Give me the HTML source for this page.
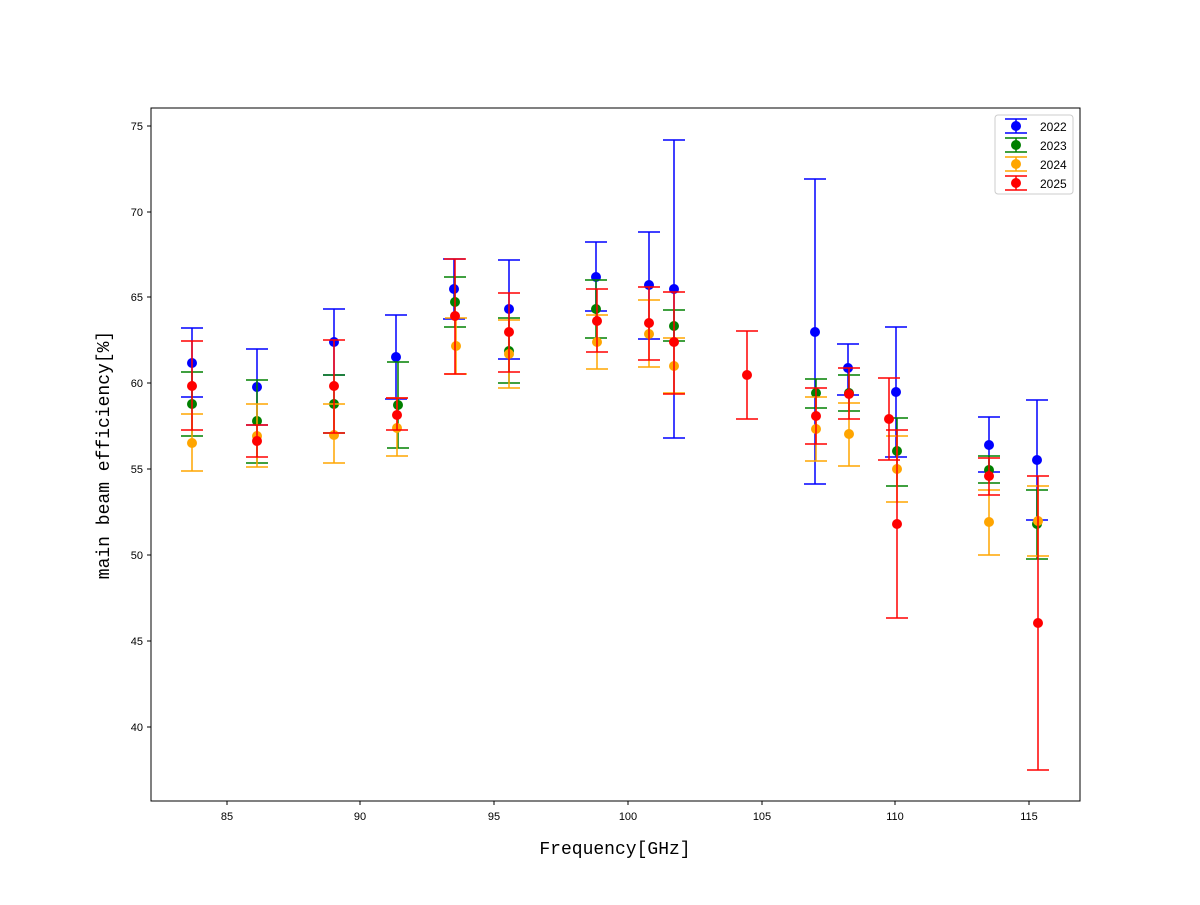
<!DOCTYPE html>
<html><head><meta charset="utf-8"><style>body{margin:0;background:#fff}svg text{font-family:"Liberation Sans","Noto Sans CJK SC",sans-serif}</style></head>
<body>
<svg id="s" width="1200" height="900" xmlns="http://www.w3.org/2000/svg">
<rect width="1200" height="900" fill="#fff"/>
<g id="d"></g>
<rect x="151" y="108" width="929" height="693" fill="none" stroke="#000" stroke-width="1"/>
<g stroke="#000" stroke-width="1">
<line x1="227" y1="801" x2="227" y2="805"/><line x1="360" y1="801" x2="360" y2="805"/><line x1="494" y1="801" x2="494" y2="805"/><line x1="628" y1="801" x2="628" y2="805"/><line x1="762" y1="801" x2="762" y2="805"/><line x1="895" y1="801" x2="895" y2="805"/><line x1="1029" y1="801" x2="1029" y2="805"/>
<line x1="147" y1="126" x2="151" y2="126"/><line x1="147" y1="212" x2="151" y2="212"/><line x1="147" y1="297" x2="151" y2="297"/><line x1="147" y1="383" x2="151" y2="383"/><line x1="147" y1="469" x2="151" y2="469"/><line x1="147" y1="555" x2="151" y2="555"/><line x1="147" y1="641" x2="151" y2="641"/><line x1="147" y1="727" x2="151" y2="727"/>
</g>
<g font-size="11" text-anchor="middle">
<text x="227" y="820">85</text><text x="360" y="820">90</text><text x="494" y="820">95</text><text x="628" y="820">100</text><text x="762" y="820">105</text><text x="895" y="820">110</text><text x="1029" y="820">115</text>
</g>
<g font-size="11" text-anchor="end">
<text x="143" y="130">75</text><text x="143" y="216">70</text><text x="143" y="301">65</text><text x="143" y="387">60</text><text x="143" y="473">55</text><text x="143" y="559">50</text><text x="143" y="645">45</text><text x="143" y="731">40</text>
</g>
<text x="615" y="854" font-size="18" text-anchor="middle" style="font-family:'Liberation Mono','Noto Sans CJK SC',monospace">Frequency[GHz]</text>
<text x="0" y="0" font-size="18" text-anchor="middle" transform="translate(109,455) rotate(-90)" style="font-family:'Liberation Mono','Noto Sans CJK SC',monospace">main beam efficiency[%]</text>
<rect x="995" y="115" width="78" height="79" rx="3" fill="#fff" stroke="#ccc"/>
<g id="lg"></g>
<g font-size="12"><text x="1040" y="131">2022</text><text x="1040" y="150">2023</text><text x="1040" y="169">2024</text><text x="1040" y="188">2025</text></g>
</svg>
<script>
var S="http://www.w3.org/2000/svg";
function el(p,t,a){var e=document.createElementNS(S,t);for(var k in a)e.setAttribute(k,a[k]);p.appendChild(e);}
var data={
blue:[[192,363,328,397],[257,387,349,425],[334,342,309,375],[396,357,315,399],[454,289,259,319],[509,309,260,359],[596,277,242,311],[649,285,232,339],[674,289,140,438],[815,332,179,484],[848,368,344,395],[896,392,327,457],[989,445,417,472],[1037,460,400,520]],
green:[[192,404,372,436],[257,421,380,463],[334,404,375,433],[398,405,362,448],[455,302,277,327],[509,351,318,383],[596,309,280,338],[674,326,310,341],[816,393,379,408],[849,393,375,411],[897,451,418,486],[989,470,456,483],[1037,524,490,559]],
orange:[[192,443,414,471],[257,436,404,467],[334,435,404,463],[397,428,398,456],[456,346,318,374],[509,354,320,388],[597,342,315,369],[649,334,300,367],[674,366,338,393],[816,429,397,461],[849,434,403,466],[897,469,436,502],[989,522,490,555],[1038,521,486,556]],
red:[[192,386,341,430],[257,441,425,457],[334,386,340,433],[397,415,398,430],[455,316,259,374],[509,332,293,372],[597,321,289,352],[649,323,287,360],[674,342,292,394],[747,375,331,419],[816,416,388,444],[849,394,368,419],[889,419,378,460],[897,524,430,618],[989,476,458,495],[1038,623,476,770]]};
var cols={blue:"#0000ff",green:"#008000",orange:"#ffa500",red:"#ff0000"};
var g=document.getElementById("d");
function bar(p,c,x,y,t,b){el(p,"line",{x1:x,y1:t,x2:x,y2:b,stroke:c,"stroke-width":1.5});el(p,"line",{x1:x-11,y1:t,x2:x+11,y2:t,stroke:c,"stroke-width":1.5});el(p,"line",{x1:x-11,y1:b,x2:x+11,y2:b,stroke:c,"stroke-width":1.5});el(p,"circle",{cx:x,cy:y,r:5,fill:c});}
for(var k in data){data[k].forEach(function(d){bar(g,cols[k],d[0],d[1],d[2],d[3]);});}
var lg=document.getElementById("lg"),ys=[126,145,164,183],i=0;
for(var k in cols){bar(lg,cols[k],1016,ys[i],ys[i]-7,ys[i]+7);i++;}
</script>
</body></html>
